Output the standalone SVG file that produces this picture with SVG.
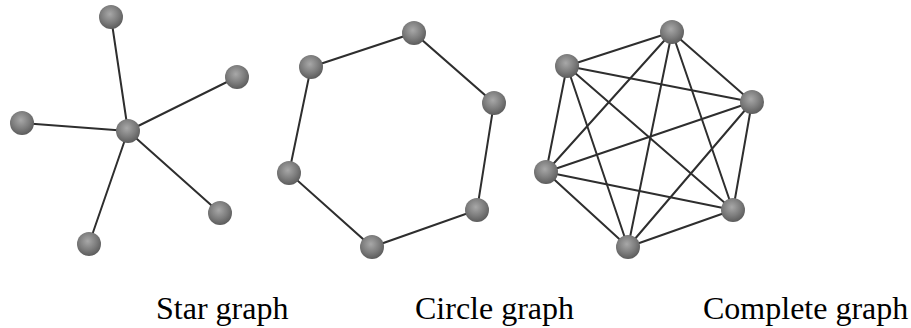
<svg xmlns="http://www.w3.org/2000/svg" width="911" height="328" viewBox="0 0 911 328">
<defs>
<radialGradient id="ball" cx="0.45" cy="0.38" r="0.62">
<stop offset="0" stop-color="#a8a8a8"/>
<stop offset="0.6" stop-color="#7c7c7c"/>
<stop offset="1" stop-color="#5c5c5c"/>
</radialGradient>
</defs>
<style>
.e{stroke:#2e2e2e;stroke-width:2;fill:none;stroke-linecap:round}
.n{fill:url(#ball)}
.t{font-family:"Liberation Serif","Times New Roman",serif;font-size:32px;fill:#000}
</style>
<rect width="911" height="328" fill="#fff"/>
<g id="connectors">
<g id="star-edges" class="e">
<line x1="128" y1="131" x2="111" y2="17"/>
<line x1="128" y1="131" x2="237" y2="77"/>
<line x1="128" y1="131" x2="22" y2="123"/>
<line x1="128" y1="131" x2="220" y2="213"/>
<line x1="128" y1="131" x2="89" y2="244"/>
</g>
<g id="circle-edges" class="e">
<polygon points="311,67 414,33 494,103 477,210 372,247 289,173"/>
</g>
<g id="complete-edges" class="e">
<line x1="567" y1="66" x2="672" y2="32"/>
<line x1="567" y1="66" x2="752" y2="102"/>
<line x1="567" y1="66" x2="546" y2="172"/>
<line x1="567" y1="66" x2="733" y2="210"/>
<line x1="567" y1="66" x2="628" y2="247"/>
<line x1="672" y1="32" x2="752" y2="102"/>
<line x1="672" y1="32" x2="546" y2="172"/>
<line x1="672" y1="32" x2="733" y2="210"/>
<line x1="672" y1="32" x2="628" y2="247"/>
<line x1="752" y1="102" x2="546" y2="172"/>
<line x1="752" y1="102" x2="733" y2="210"/>
<line x1="752" y1="102" x2="628" y2="247"/>
<line x1="546" y1="172" x2="733" y2="210"/>
<line x1="546" y1="172" x2="628" y2="247"/>
<line x1="733" y1="210" x2="628" y2="247"/>
</g>
</g>
<g id="star-center"><circle class="n" cx="128" cy="131" r="12"/></g>
<g id="star-1"><circle class="n" cx="111" cy="17" r="12"/></g>
<g id="star-2"><circle class="n" cx="237" cy="77" r="12"/></g>
<g id="star-3"><circle class="n" cx="22" cy="123" r="12"/></g>
<g id="star-4"><circle class="n" cx="220" cy="213" r="12"/></g>
<g id="star-5"><circle class="n" cx="89" cy="244" r="12"/></g>
<g id="circle-1"><circle class="n" cx="311" cy="67" r="12"/></g>
<g id="circle-2"><circle class="n" cx="414" cy="33" r="12"/></g>
<g id="circle-3"><circle class="n" cx="494" cy="103" r="12"/></g>
<g id="circle-4"><circle class="n" cx="477" cy="210" r="12"/></g>
<g id="circle-5"><circle class="n" cx="372" cy="247" r="12"/></g>
<g id="circle-6"><circle class="n" cx="289" cy="173" r="12"/></g>
<g id="complete-1"><circle class="n" cx="567" cy="66" r="12"/></g>
<g id="complete-2"><circle class="n" cx="672" cy="32" r="12"/></g>
<g id="complete-3"><circle class="n" cx="752" cy="102" r="12"/></g>
<g id="complete-4"><circle class="n" cx="733" cy="210" r="12"/></g>
<g id="complete-5"><circle class="n" cx="628" cy="247" r="12"/></g>
<g id="complete-6"><circle class="n" cx="546" cy="172" r="12"/></g>
<g id="labels">
<text class="t" x="156" y="319">Star graph</text>
<text class="t" x="415" y="319">Circle graph</text>
<text class="t" x="703" y="319">Complete graph</text>
</g>
</svg>
